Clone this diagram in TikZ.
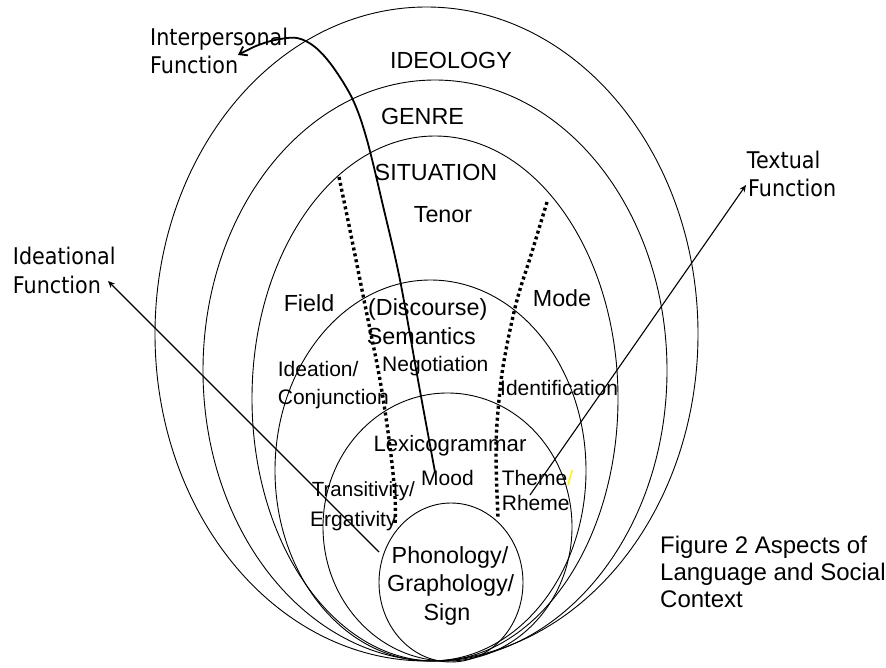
\documentclass[tikz,border=0pt]{standalone}
\usepackage{fontspec}
\setmainfont{Liberation Sans}
\newfontfamily\funcfont[FakeStretch=0.9]{DejaVu Sans}
\usetikzlibrary{arrows.meta,shapes.geometric}

\begin{document}
\begin{tikzpicture}[x=1pt,y=-1pt,
  ring/.style={draw=black, line width=0.9pt, ellipse, inner sep=0pt},
  big/.style={inner sep=0pt, font=\fontsize{23.3}{28}\selectfont},
  small/.style={inner sep=0pt, font=\fontsize{21}{25}\selectfont},
  func/.style={inner sep=0pt, anchor=base west, font=\funcfont\fontsize{23}{28}\selectfont},
  caption/.style={inner sep=0pt, anchor=base west, font=\fontsize{24}{28}\selectfont},
  boundary/.style={line width=3.4pt, dash pattern=on 3pt off 3pt},
  pointer/.style={line width=1.1pt, -{Stealth[length=7pt,width=6pt]}},
]
\useasboundingbox (0,0) rectangle (886,667);

% nested strata, all resting on a common bottom point
\node[ring, minimum width=543, minimum height=654] (ideology)  at (426.5,334) {};
\node[ring, minimum width=464, minimum height=581] (genre)     at (435,370.5) {};
\node[ring, minimum width=366, minimum height=525] (situation) at (435,398.5) {};
\node[ring, minimum width=311, minimum height=381] (semantics) at (430.5,470.5) {};
\node[ring, minimum width=249, minimum height=268] (lexico)    at (447.5,527) {};
\node[ring, minimum width=144, minimum height=159] (phono)     at (451,582.5) {};

% dotted boundaries between field, tenor and mode
\draw[boundary] plot[smooth, tension=0.6] coordinates
  {(339,177) (352,240) (364,300) (380,380) (390,447) (395,497) (395,525)};
\draw[boundary] plot[smooth, tension=0.6] coordinates
  {(547,202) (531,255) (517,300) (506,350) (500,390) (496,447) (498,517)};

% stratum labels
\node[big, anchor=base] (tIdeology)  at (451,68.3) {IDEOLOGY};
\node[big, anchor=base] (tGenre)     at (422.5,124) {GENRE};
\node[big, anchor=base] (tSituation) at (436,180) {SITUATION};
\node[big, anchor=base] (tTenor)     at (443,222.7) {Tenor};
\node[big, anchor=base] (tField)     at (309,311.7) {Field};
\node[big, anchor=base] (tMode)      at (562,306.7) {Mode};
\node[big, anchor=base west] (tDisc) at (368,315) {(Discourse)};
\node[big, anchor=base west] (tSem)  at (366.7,344) {Semantics};
\node[small, anchor=base west] (tNeg)   at (382,371.7) {Negotiation};
\node[small, anchor=base west] (tIdea)  at (277.7,376.7) {Ideation/};
\node[small, anchor=base west] (tConj)  at (277.7,404) {Conjunction};
\node[small, anchor=base west] (tIdent) at (500,395) {Identification};
\node[inner sep=0pt, anchor=base west, font=\fontsize{22.2}{26}\selectfont] (tLex) at (373.3,451.7) {Lexicogrammar};
\node[small, anchor=base west] (tMood)  at (421,485) {Mood};
\node[small, anchor=base west, font=\fontsize{20.5}{25}\selectfont] (tTrans) at (311.7,496.7) {Transitivity/};
\node[small, anchor=base west] (tErg)   at (310,526.7) {Ergativity};
\node[small, anchor=base west] (tTheme) at (501.7,485) {Theme{\color{yellow}/}};
\node[small, anchor=base west] (tRheme) at (501.7,510) {Rheme};
\node[big, anchor=base] (tPhon)  at (450,563.3) {Phonology/};
\node[big, anchor=base] (tGraph) at (450.7,591.7) {Graphology/};
\node[big, anchor=base] (tSign)  at (447,620) {Sign};

% caption
\node[caption] (cap1) at (660,553.3) {Figure 2 Aspects of};
\node[caption] (cap2) at (660,580) {Language and Social};
\node[caption] (cap3) at (660,607) {Context};

% metafunction labels
\node[func] (fInter1) at (150,45) {Interpersonal};
\node[func] (fInter2) at (150,73) {Function};
\node[func] (fIdea1)  at (12.7,264) {Ideational};
\node[func] (fIdea2)  at (12.7,293.3) {Function};
\node[func] (fText1)  at (746.7,168.3) {Textual};
\node[func] (fText2)  at (748,196.7) {Function};

% metafunction arrows
\coordinate (ideaStart) at (379,552);
\coordinate (ideaTip)   at (108,281);
\draw[pointer] (ideaStart) -- (ideaTip);

\coordinate (textStart) at (530,495);
\coordinate (textTip)   at (746,185);
\draw[pointer] (textStart) -- (textTip);

\draw[line width=1.8pt, -{Straight Barb[length=7pt,width=10pt]}]
  plot[smooth, tension=0.55] coordinates
  {(435,472) (418,380) (400,280) (384,210) (367,140) (353,100) (333,67)
   (315,47) (297,38) (275,40) (256,46) (238,55)};
\end{tikzpicture}
\end{document}
